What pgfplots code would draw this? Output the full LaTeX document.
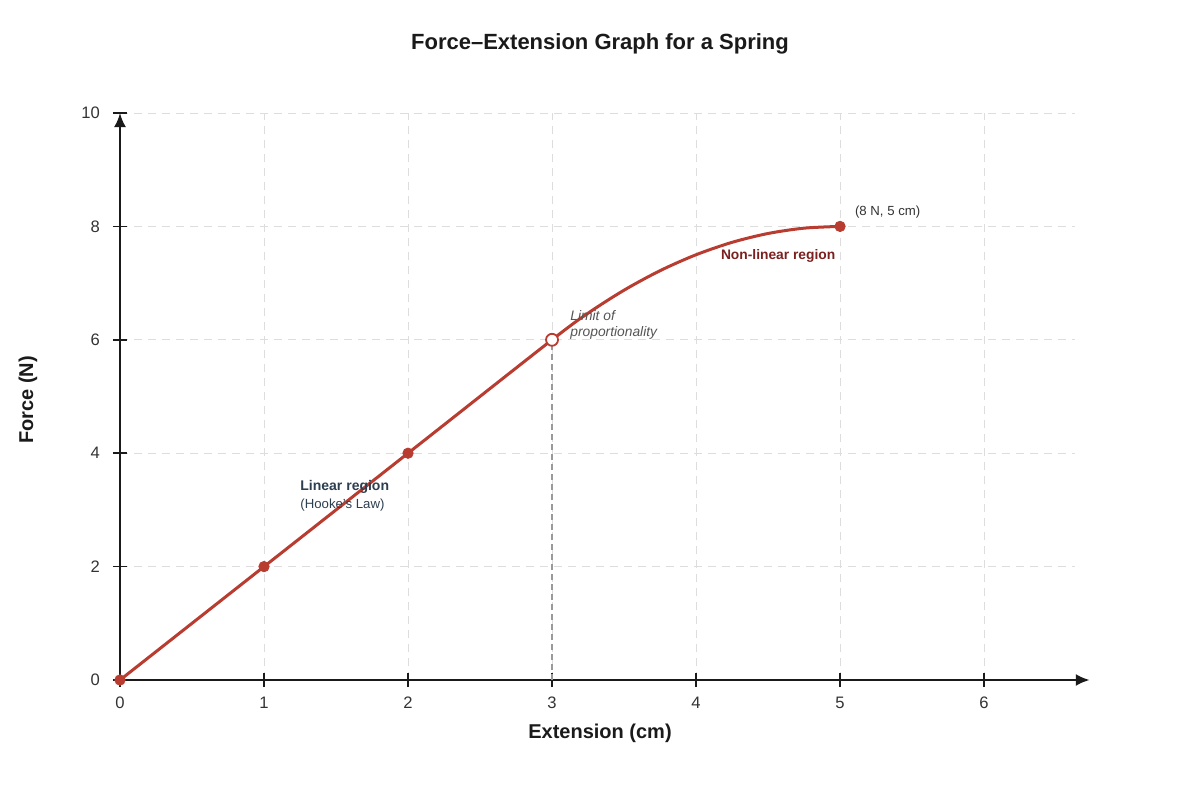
\documentclass[border=0pt]{standalone}
\usepackage{pgfplots}
\pgfplotsset{compat=1.18}
\usepackage{fontspec}
\setmainfont{Liberation Sans}
\usetikzlibrary{arrows.meta}
\definecolor{curvecol}{HTML}{B83C30}
\definecolor{nonlin}{HTML}{7B1F1F}
\definecolor{linc}{HTML}{2C3E50}
\definecolor{gridc}{HTML}{DDDDDD}
\definecolor{axc}{HTML}{1A1A1A}
\definecolor{tickc}{HTML}{333333}
\definecolor{limc}{HTML}{555555}
\begin{document}
\begin{tikzpicture}
\useasboundingbox (-60pt,-60pt) rectangle (540pt,340pt);
\begin{axis}[
  at={(0,0)}, anchor=south west,
  scale only axis,
  width=477.4pt, height=283.5pt,
  xmin=0, xmax=6.63, ymin=0, ymax=10,
  axis lines=left,
  axis line style={axc, line width=1.2pt},
  x axis line style={-{Latex[length=7pt,width=6pt]}, shorten >=-7.5pt},
  y axis line style={-{Latex[length=7pt,width=6pt]}},
  xtick={0,1,2,3,4,5,6}, ytick={0,2,4,6,8,10},
  tick align=center, major tick length=7pt,
  tick style={axc, line width=0.8pt},
  grid=major,
  major grid style={gridc, line width=0.5pt, dash pattern=on 4pt off 3pt},
  /pgf/number format/assume math mode=true,
  tick label style={font=\fontsize{8.3}{10}\selectfont, text=tickc},
  xticklabel style={yshift=-1.5pt},
  yticklabel style={xshift=-3pt},
  clip=false,
]
\addplot[gray!80, line width=0.8pt, dash pattern=on 3pt off 2pt] coordinates {(3,0) (3,6)};
\addplot[curvecol, line width=1.5pt, smooth] coordinates {
(0,0) (1,2) (2,4) (3,6) (3.25,6.469) (3.5,6.875) (3.75,7.219) (4,7.5) (4.25,7.719) (4.5,7.875) (4.75,7.969) (5,8)};
\addplot[only marks, mark=*, mark size=2.6pt, curvecol, mark options={fill=curvecol, draw=curvecol}] coordinates {(0,0) (1,2) (2,4) (5,8)};
\addplot[only marks, mark=*, mark size=3pt, mark options={fill=white, draw=curvecol, line width=0.9pt}] coordinates {(3,6)};
\node[anchor=west, font=\fontsize{6.6}{8}\selectfont, text=tickc] at (axis cs:5.055,8.26) {(8 N, 5 cm)};
\node[font=\bfseries\fontsize{6.9}{8}\selectfont, text=nonlin] at (axis cs:4.57,7.47) {Non-linear region};
\node[anchor=west, align=left, font=\itshape\fontsize{6.9}{8}\selectfont, text=limc, inner sep=0pt] at (axis cs:3.125,6.265) {Limit of\\proportionality};
\node[anchor=west, font=\bfseries\fontsize{7}{8}\selectfont, text=linc, inner sep=0pt] at (axis cs:1.25,3.405) {Linear region};
\node[anchor=west, font=\fontsize{6.6}{8}\selectfont, text=linc, inner sep=0pt] at (axis cs:1.25,3.085) {(Hooke's Law)};
\end{axis}
\node[font=\bfseries\fontsize{11}{14}\selectfont, text=axc] at (240pt,318pt) {Force–Extension Graph for a Spring};
\node[font=\bfseries\fontsize{10}{12}\selectfont, text=axc] at (240pt,-26.5pt) {Extension (cm)};
\node[font=\bfseries\fontsize{10}{12}\selectfont, text=axc, rotate=90] at (-46pt,140pt) {Force (N)};
\end{tikzpicture}
\end{document}
